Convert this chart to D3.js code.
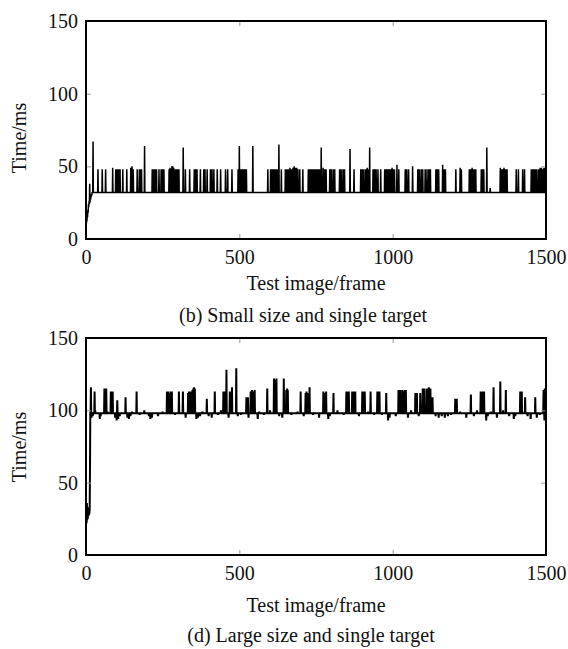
<!DOCTYPE html>
<html>
<head>
<meta charset="utf-8">
<script src="https://cdn.jsdelivr.net/npm/d3@7"></script>
<style>
  html, body { margin: 0; padding: 0; background: #fff; }
  svg { display: block; }
  svg text { font-family: "Liberation Serif", Tinos, "Times New Roman", serif; fill: #111; }
</style>
</head>
<body>
<svg id="chart" width="568" height="649"></svg>
<script>
// frame counts and axis ticks
const FRAMES = 1500;
const xTicks = [0, 500, 1000, 1500];
const yTicks = [0, 50, 100, 150];

// (b) small size, single target: startup values, then a flat base with spikes [frame, ms]
const smallStartup = [43, 10, 14, 12, 17, 15, 20, 18, 24, 22, 26, 24, 38, 25, 28, 27, 30, 29, 31, 30, 32];
const smallBase = 32;
const smallSpikes = [
  [23,67],[39,48],[53,48],[64,48],[87,49],[97,48],[100,48],[104,48],[107,48],[111,48],[120,48],[133,48],
  [146,49],[150,50],[154,48],[167,48],[174,48],[178,48],[181,48],[191,64],[216,48],[220,48],[225,48],[230,48],
  [238,48],[245,48],[250,48],[254,48],[271,48],[274,49],[277,48],[280,50],[283,50],[286,49],[289,48],[292,48],
  [296,48],[300,48],[303,48],[317,63],[324,48],[338,48],[353,48],[357,48],[362,48],[373,48],[384,48],[388,48],
  [395,48],[406,48],[411,48],[417,48],[428,48],[439,48],[455,48],[462,48],[476,48],[496,48],[500,64],[503,48],
  [507,48],[511,48],[515,48],[519,48],[523,48],[544,64],[593,48],[602,48],[606,48],[609,48],[613,48],[617,48],
  [620,48],[624,48],[629,65],[637,48],[650,48],[655,48],[660,48],[665,49],[670,48],[675,49],[679,50],[683,49],
  [687,49],[691,48],[697,48],[707,48],[725,48],[729,48],[733,48],[737,48],[741,48],[745,48],[750,48],[754,48],
  [758,48],[762,48],[767,63],[773,49],[778,48],[783,48],[795,48],[800,48],[806,48],[811,48],[827,48],[832,48],
  [838,48],[843,48],[861,62],[874,48],[896,48],[901,48],[906,48],[912,48],[917,49],[922,48],[925,63],[936,48],
  [941,48],[946,48],[952,48],[961,48],[974,48],[978,48],[982,48],[986,48],[990,48],[994,48],[998,49],[1002,48],
  [1006,48],[1014,51],[1020,48],[1041,48],[1046,48],[1052,48],[1065,50],[1082,48],[1087,48],[1093,48],[1098,48],
  [1106,48],[1112,48],[1118,48],[1123,48],[1141,48],[1145,48],[1150,48],[1163,51],[1168,48],[1172,48],[1206,48],
  [1220,49],[1224,48],[1250,48],[1253,48],[1256,48],[1259,49],[1262,48],[1265,48],[1268,48],[1271,48],[1289,48],
  [1293,48],[1297,48],[1307,63],[1318,35],[1351,49],[1355,48],[1359,48],[1363,49],[1368,48],[1373,48],[1403,48],
  [1410,48],[1424,48],[1430,48],[1452,48],[1456,48],[1460,48],[1465,48],[1470,48],[1476,48],[1481,49],[1485,49],
  [1489,48],[1493,49],[1497,49]
];

// (d) large size, single target
const largeStartup = [20, 34, 22, 36, 24, 30, 25, 33, 27, 30, 28, 29, 31, 60];
const largeBase = 98;
const largeSpikes = [
  [16,116],[28,113],[60,115],[63,114],[66,115],[81,113],[84,112],[87,113],[102,107],[129,109],[165,113],
  [264,113],[268,113],[272,112],[276,113],[280,113],[303,113],[316,113],[333,112],[336,113],[339,113],[344,113],
  [347,114],[350,115],[352,116],[355,115],[394,108],[420,113],[448,113],[452,113],[458,128],[469,113],[476,116],
  [490,129],[523,109],[528,109],[537,113],[541,114],[545,113],[550,114],[591,115],[613,122],[617,121],[621,122],
  [645,122],[653,114],[656,115],[658,114],[700,113],[716,112],[719,113],[722,112],[729,116],[774,113],[778,112],
  [783,113],[807,112],[849,113],[853,113],[857,113],[868,113],[872,113],[878,113],[901,113],[905,113],[909,113],
  [928,113],[950,113],[954,113],[957,113],[979,112],[1019,114],[1022,114],[1025,114],[1032,114],[1036,113],
  [1040,114],[1043,114],[1074,112],[1079,112],[1090,112],[1098,115],[1102,115],[1110,115],[1114,115],[1118,116],
  [1123,115],[1130,109],[1204,108],[1209,108],[1255,111],[1287,113],[1291,113],[1295,113],[1298,113],[1329,116],
  [1351,120],[1369,114],[1416,113],[1421,113],[1432,109],[1465,109],[1492,114],[1496,115]
];
// small wobble of the large-target base line [frame, ms]
const largeWobble = [
  [18,95],[22,96],[30,100],[45,94],[48,96],[70,99],[95,95],[100,93],[105,94],[110,96],[135,95],[140,94],
  [145,96],[150,99],[175,97],[190,100],[205,96],[210,94],[215,95],[235,96],[250,99],[290,97],[325,95],[360,94],
  [365,95],[372,96],[380,99],[400,96],[410,95],[430,97],[440,100],[465,95],[495,96],[505,97],[530,95],[560,94],
  [565,99],[580,97],[600,100],[630,96],[640,95],[670,97],[690,99],[710,96],[740,97],[760,95],[790,94],[795,96],
  [820,100],[840,97],[890,96],[920,99],[940,97],[965,97],[985,93],[990,95],[1010,96],[1050,95],[1060,100],
  [1085,96],[1140,96],[1150,95],[1160,96],[1170,95],[1180,96],[1190,97],[1220,99],[1240,95],[1265,96],[1275,100],
  [1305,93],[1310,96],[1320,99],[1340,95],[1360,100],[1380,96],[1395,94],[1400,96],[1440,96],[1450,94],[1470,95],
  [1480,97],[1495,93]
];

const panels = [
  { startup: smallStartup, base: smallBase, marks: [smallSpikes], top: 21, bottom: 239,
    xLabelY: 290, yLabelY: 138, caption: "(b) Small size and single target",
    captionX: 303, captionY: 322, width: 1.5 },
  { startup: largeStartup, base: largeBase, marks: [largeWobble, largeSpikes], top: 338, bottom: 555,
    xLabelY: 612, yLabelY: 447, caption: "(d) Large size and single target",
    captionX: 311, captionY: 642, width: 2 }
];

const svg = d3.select("#chart");
const left = 86, right = 546;

function buildSeries(p) {
  const byFrame = new Map();
  p.marks.forEach(list => list.forEach(([f, v]) => byFrame.set(f, v)));
  p.startup.forEach((v, i) => byFrame.set(i, v));
  return d3.range(FRAMES).map(i => [i, byFrame.has(i) ? byFrame.get(i) : p.base]);
}

panels.forEach(p => {
  const x = d3.scaleLinear().domain([0, FRAMES]).range([left, right]);
  const y = d3.scaleLinear().domain([0, 150]).range([p.bottom, p.top]);
  const g = svg.append("g");

  const line = d3.line().x(d => x(d[0])).y(d => y(d[1]));
  g.append("path")
    .datum(buildSeries(p))
    .attr("fill", "none")
    .attr("stroke", "#000")
    .attr("stroke-width", p.width)
    .attr("stroke-linejoin", "miter")
    .attr("d", line);

  // inward ticks on all four sides
  const styleAxis = a => {
    a.attr("font-family", null).attr("font-size", null);
    a.select(".domain").remove();
    a.selectAll(".tick line").attr("stroke", "#999").attr("stroke-width", 1);
    a.selectAll("text").style("font-size", "20px").attr("fill", "#111");
  };
  g.append("g").attr("transform", `translate(0,${p.bottom})`)
    .call(d3.axisBottom(x).tickValues(xTicks).tickSize(-5).tickPadding(11).tickFormat(d3.format("d")))
    .call(styleAxis);
  g.append("g").attr("transform", `translate(0,${p.top})`)
    .call(d3.axisTop(x).tickValues(xTicks).tickSize(-5).tickFormat(""))
    .call(styleAxis);
  g.append("g").attr("transform", `translate(${left},0)`)
    .call(d3.axisLeft(y).tickValues(yTicks).tickSize(-5).tickPadding(8).tickFormat(d3.format("d")))
    .call(styleAxis);
  g.append("g").attr("transform", `translate(${right},0)`)
    .call(d3.axisRight(y).tickValues(yTicks).tickSize(-5).tickFormat(""))
    .call(styleAxis);

  g.append("rect")
    .attr("x", left).attr("y", p.top)
    .attr("width", right - left).attr("height", p.bottom - p.top)
    .attr("fill", "none").attr("stroke", "#000").attr("stroke-width", 2);

  g.append("text")
    .attr("x", (left + right) / 2).attr("y", p.xLabelY)
    .attr("text-anchor", "middle").style("font-size", "20px")
    .text("Test image/frame");
  g.append("text")
    .attr("transform", `translate(26,${p.yLabelY}) rotate(-90)`)
    .attr("text-anchor", "middle").style("font-size", "20px")
    .text("Time/ms");
  g.append("text")
    .attr("x", p.captionX).attr("y", p.captionY)
    .attr("text-anchor", "middle").style("font-size", "20px")
    .text(p.caption);
});
</script>
</body>
</html>
